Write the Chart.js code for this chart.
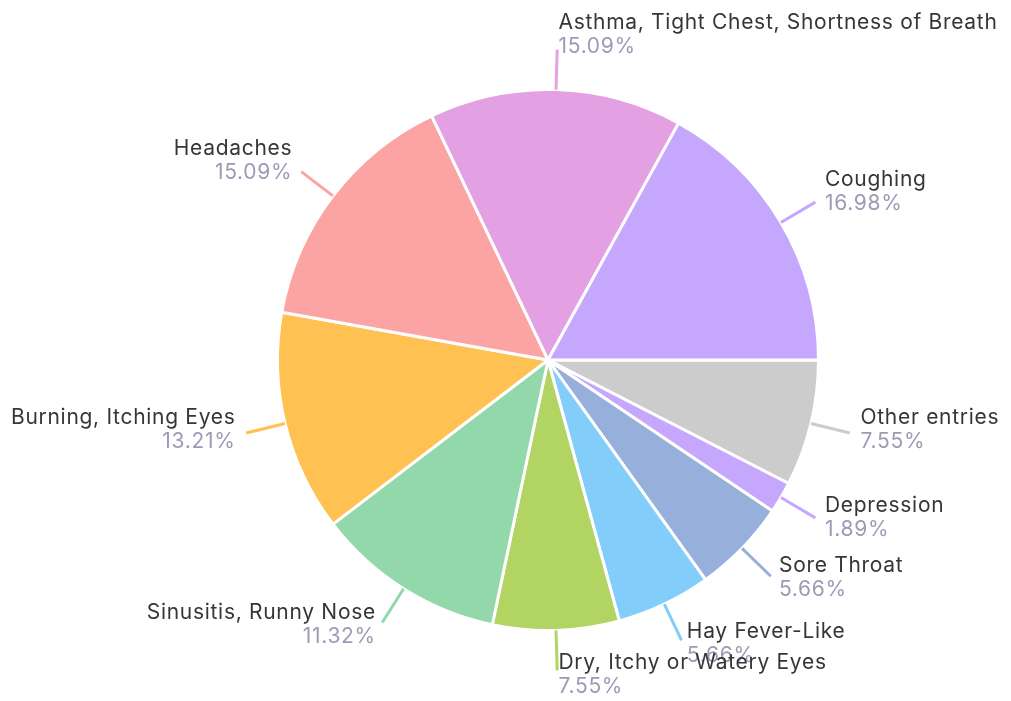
<!DOCTYPE html>
<html>
<head>
<meta charset="utf-8">
<script src="https://cdn.jsdelivr.net/npm/chart.js@4"></script>
<style>
html,body{margin:0;padding:0;background:#fff;}
#wrap{width:1011px;height:701px;position:relative;}
</style>
</head>
<body>
<div id="wrap"><canvas id="c" width="1011" height="701"></canvas></div>
<script>
// Data listed clockwise from 3 o'clock (reference runs counter-clockwise from Coughing)
const categories = ["Other entries", "Depression", "Sore Throat", "Hay Fever-Like", "Dry, Itchy or Watery Eyes", "Sinusitis, Runny Nose", "Burning, Itching Eyes", "Headaches", "Asthma, Tight Chest, Shortness of Breath", "Coughing"];
const counts = [4, 1, 3, 3, 4, 6, 7, 8, 8, 9];
const sliceColors = ["#cccccc", "#c5a8fd", "#97afdb", "#82cdf9", "#b1d463", "#93d8aa", "#ffc152", "#fca3a3", "#e3a0e3", "#c5a8fd"];

const NAME_FONT = '21px Inter';
const LETTER_SPACING = '0.7px';
const NAME_COLOR = '#363636';
const PCT_COLOR = '#9b9bb6';

const labelPlugin = {
  id: 'outLabels',
  afterDatasetsDraw(chart) {
    const ctx = chart.ctx;
    const meta = chart.getDatasetMeta(0);
    const data = chart.data.datasets[0].data;
    const total = data.reduce((a, b) => a + b, 0);
    ctx.save();
    ctx.beginPath();
    ctx.rect(12, 0, chart.width - 12, chart.height);
    ctx.clip();
    meta.data.forEach((arc, i) => {
      const p = arc.getProps(['x', 'y', 'startAngle', 'endAngle', 'outerRadius'], true);
      const mid = (p.startAngle + p.endAngle) / 2;
      const c = Math.cos(mid), s = Math.sin(mid);
      const r0 = p.outerRadius, r1 = p.outerRadius + 40;
      const sx = p.x + c * r0, sy = p.y + s * r0;
      const ex = p.x + c * r1, ey = p.y + s * r1;
      ctx.strokeStyle = sliceColors[i];
      ctx.lineWidth = 3;
      ctx.beginPath();
      ctx.moveTo(sx, sy);
      ctx.lineTo(ex, ey);
      ctx.stroke();
      const up = -s; // positive when above centre
      const blockC = ey + (-5.5 - 9.5 * up);
      const gap = 1 + 10 * Math.abs(c);
      const right = c >= 0;
      const tx = right ? ex + gap : ex - gap;
      ctx.textAlign = right ? 'left' : 'right';
      ctx.textBaseline = 'middle';
      ctx.font = NAME_FONT;
      if ('letterSpacing' in ctx) ctx.letterSpacing = LETTER_SPACING;
      ctx.fillStyle = NAME_COLOR;
      ctx.fillText(chart.data.labels[i], tx, blockC - 12);
      ctx.fillStyle = PCT_COLOR;
      ctx.fillText((data[i] / total * 100).toFixed(2) + '%', tx, blockC + 12);
    });
    ctx.restore();
  }
};

new Chart(document.getElementById('c'), {
  type: 'pie',
  data: {
    labels: categories,
    datasets: [{
      data: counts,
      backgroundColor: sliceColors,
      borderColor: '#ffffff',
      borderWidth: 3,
      hoverOffset: 0
    }]
  },
  options: {
    responsive: false,
    animation: false,
    rotation: 90,
    layout: { padding: { top: 88, bottom: 69, left: 100, right: 15 } },
    plugins: { legend: { display: false }, tooltip: { enabled: false } }
  },
  plugins: [labelPlugin]
});
</script>
</body>
</html>
